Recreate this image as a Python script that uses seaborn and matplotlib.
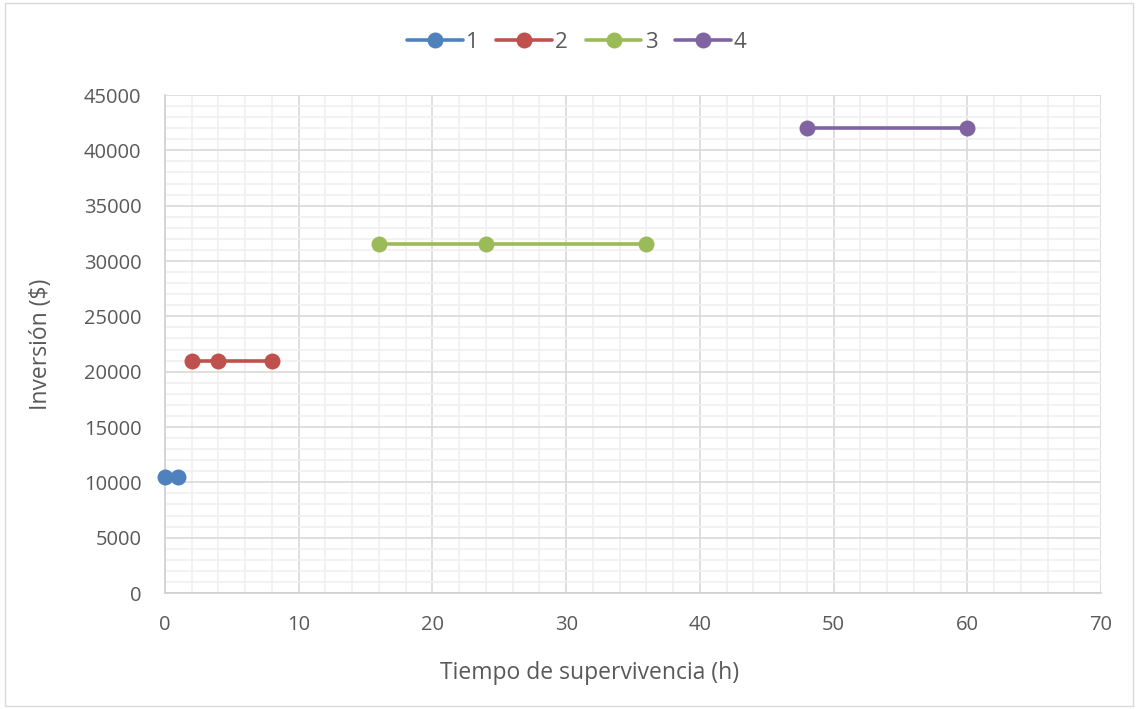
import matplotlib
matplotlib.use("Agg")
import matplotlib.pyplot as plt
import seaborn as sns
import pandas as pd
from matplotlib.ticker import MultipleLocator
from matplotlib.patches import Rectangle

series_names = ["1", "2", "3", "4"]
x_values = [[0, 1], [2, 4, 8], [16, 24, 36], [48, 60]]
y_values = [[10500, 10500], [21000, 21000, 21000], [31500, 31500, 31500], [42000, 42000]]
colors = ["#4F81BD", "#C0504D", "#9BBB59", "#8064A2"]

rows = []
for name, xs, ys in zip(series_names, x_values, y_values):
    for xv, yv in zip(xs, ys):
        rows.append({"serie": name, "x": xv, "y": yv})
df = pd.DataFrame(rows)

sns.set_theme(style="white")
plt.rcParams['font.family'] = ['Open Sans', 'DejaVu Sans']

fig = plt.figure(figsize=(11.38, 7.09), dpi=100)
ax = fig.add_axes([0.145, 0.1636, 0.8225, 0.7024])

sns.lineplot(data=df, x="x", y="y", hue="serie", palette=colors, marker="o",
             markersize=11.5, markeredgewidth=0, linewidth=2.6, ax=ax, sort=True,
             legend=True, zorder=5)
for line in ax.lines:
    line.set_clip_on(False)

ax.set_xlim(0, 70)
ax.set_ylim(0, 45000)
ax.xaxis.set_major_locator(MultipleLocator(10))
ax.xaxis.set_minor_locator(MultipleLocator(2))
ax.yaxis.set_major_locator(MultipleLocator(5000))
ax.yaxis.set_minor_locator(MultipleLocator(1000))
ax.grid(which="major", color="#D9D9D9", linewidth=1.2, zorder=0)
ax.grid(which="minor", color="#F0F0F0", linewidth=1.2, zorder=0)
ax.set_axisbelow(True)
for s in ["top", "right"]:
    ax.spines[s].set_visible(False)
for s in ["left", "bottom"]:
    ax.spines[s].set_color("#D0D0D0")
    ax.spines[s].set_linewidth(1.2)
ax.tick_params(axis="both", which="both", length=0, labelsize=14.5, colors="#595959")
ax.tick_params(axis="y", pad=17)
ax.tick_params(axis="x", pad=16)
ax.set_xlabel("Tiempo de supervivencia (h)", fontsize=16.5, color="#595959")
ax.xaxis.set_label_coords(0.454, -0.136)
ax.set_ylabel("Inversión ($)", fontsize=16.5, color="#595959", labelpad=22)

handles, labels = ax.get_legend_handles_labels()
leg = ax.legend(handles, labels, loc="center", bbox_to_anchor=(0.44, 1.105), ncol=4,
                frameon=False, fontsize=16, handlelength=2.5, columnspacing=0.8,
                handletextpad=0.15, labelcolor="#595959")

fig.patches.append(Rectangle((0.004, 0.004), 0.992, 0.992, transform=fig.transFigure,
                             fill=False, edgecolor="#D9D9D9", linewidth=1))

fig.savefig("out.png", dpi=100)
